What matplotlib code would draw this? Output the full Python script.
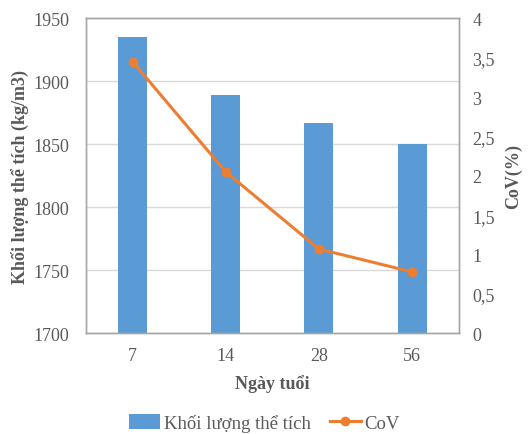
import matplotlib.pyplot as plt
import numpy as np

plt.rcParams['font.family'] = ['Liberation Serif', 'DejaVu Serif']

# data
ages = ['7', '14', '28', '56']
density = [1935, 1889, 1867, 1850]
cov = [3.45, 2.05, 1.07, 0.78]

bar_color = '#5B9BD5'
line_color = '#ED7D31'
tick_color = '#595959'
grid_color = '#D9D9D9'

fig = plt.figure(figsize=(5.29, 4.35), dpi=100)
ax = fig.add_axes([0.1626, 0.2315, 0.7044, 0.7241])
x = np.arange(len(ages))

ax.bar(x, density, width=0.31, color=bar_color, zorder=2, label='Khối lượng thể tích')
ax.set_ylim(1700, 1950)
ax.set_xlim(-0.5, len(ages) - 0.5)
ax.set_yticks(np.arange(1700, 1951, 50))
ax.set_xticks(x)
ax.set_xticklabels(ages)
ax.yaxis.grid(True, color=grid_color, linewidth=1, zorder=0)
ax.set_axisbelow(True)

ax2 = ax.twinx()
ax2.plot(x, cov, color=line_color, linewidth=2.2, marker='o', markersize=6, label='CoV', zorder=3)
ax2.set_ylim(0, 4)
ax2.set_yticks(np.arange(0, 4.01, 0.5))
ax2.set_yticklabels(['0', '0,5', '1', '1,5', '2', '2,5', '3', '3,5', '4'])

for a in (ax, ax2):
    for s in a.spines.values():
        s.set_color('#A6A6A6')
        s.set_linewidth(1)
    a.tick_params(length=0, labelsize=13, colors=tick_color)

ax.tick_params(axis='x', pad=10)
ax.tick_params(axis='y', pad=12)
ax2.tick_params(axis='y', pad=10)

ax.set_xlabel('Ngày tuổi', fontsize=13, fontweight='bold', color=tick_color, labelpad=7)
ax.set_ylabel('Khối lượng thể tích (kg/m3)', fontsize=13, fontweight='bold', color=tick_color, labelpad=3)
ax2.set_ylabel('CoV(%)', fontsize=13, fontweight='bold', color=tick_color, labelpad=7)

h1, l1 = ax.get_legend_handles_labels()
h2, l2 = ax2.get_legend_handles_labels()
fig.legend(h1 + h2, l1 + l2, loc='center', bbox_to_anchor=(0.5, 0.025), ncol=2,
           frameon=False, fontsize=13.5, handlelength=1.65, handleheight=0.8,
           columnspacing=1.0, handletextpad=0.2, labelcolor=tick_color)

fig.savefig('out.png', dpi=100)
